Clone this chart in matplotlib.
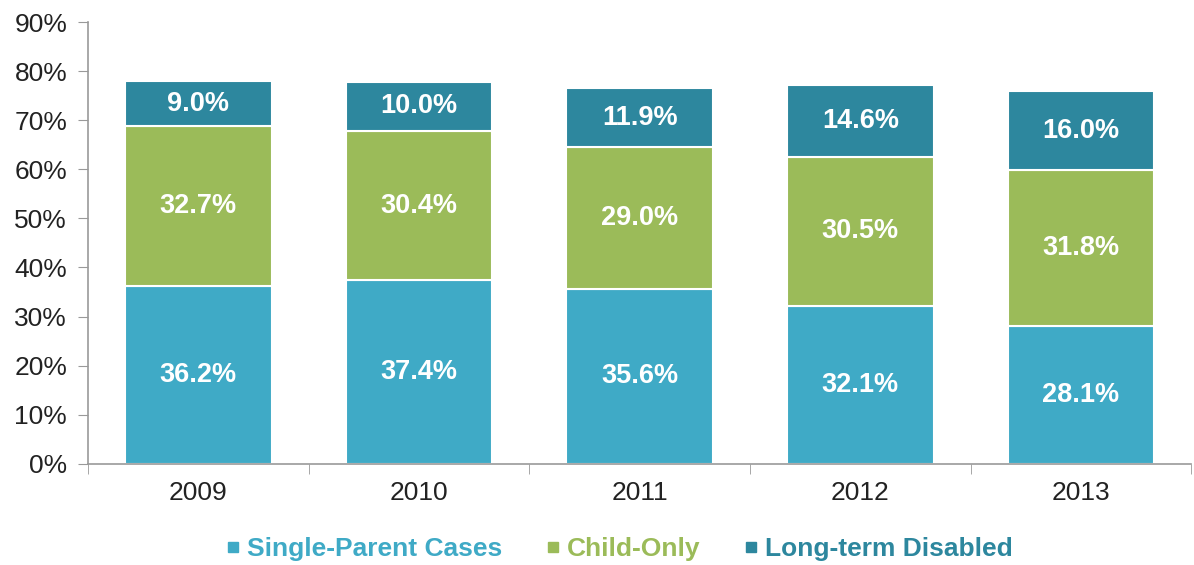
import numpy as np
import matplotlib
matplotlib.use("Agg")
import matplotlib.pyplot as plt
from matplotlib.lines import Line2D

years = ["2009", "2010", "2011", "2012", "2013"]
single_parent = [36.2, 37.4, 35.6, 32.1, 28.1]
child_only = [32.7, 30.4, 29.0, 30.5, 31.8]
disabled = [9.0, 10.0, 11.9, 14.6, 16.0]
series_names = ["Single-Parent Cases", "Child-Only", "Long-term Disabled"]
colors = ["#3FAAC6", "#9BBB59", "#2D879E"]

plt.rcParams["font.family"] = ["Liberation Sans", "DejaVu Sans"]

fig = plt.figure(figsize=(11.94, 5.65), dpi=100)
ax = fig.add_axes([0.0737, 0.179, 0.924, 0.782])

x = np.arange(len(years))
bottom = np.zeros(len(years))
for vals, c in zip([single_parent, child_only, disabled], colors):
    vals = np.array(vals)
    ax.bar(x, vals, 0.665, bottom=bottom, color=c, edgecolor="white", linewidth=1.5)
    for xi, b, v in zip(x, bottom, vals):
        ax.text(xi, b + v / 2, f"{v:.1f}%", ha="center", va="center",
                color="white", fontsize=19.5, fontweight="bold")
    bottom += vals

ax.set_xlim(-0.5, len(years) - 0.5)
ax.set_ylim(0, 90)
ax.set_yticks(np.arange(0, 91, 10))
ax.set_yticklabels([f"{v}%" for v in range(0, 91, 10)])
ax.set_xticks(x)
ax.set_xticklabels(years)
ax.set_xticks(np.arange(-0.5, len(years)), minor=True)
ax.tick_params(axis="x", which="major", length=0, labelsize=19, pad=12, colors="#222222")
ax.tick_params(axis="x", which="minor", length=7, color="#999999", direction="out")
ax.tick_params(axis="y", length=7, color="#999999", labelsize=19, pad=8, labelcolor="#222222")
for s in ["top", "right"]:
    ax.spines[s].set_visible(False)
for s in ["left", "bottom"]:
    ax.spines[s].set_color("#999999")
    ax.spines[s].set_linewidth(1.2)

handles = [Line2D([0], [0], marker="s", linestyle="", color=c, markersize=7) for c in colors]
leg = fig.legend(handles, series_names, loc="center", bbox_to_anchor=(0.515, 0.028),
                 ncol=3, frameon=False, handletextpad=-0.1, columnspacing=1.35,
                 handlelength=1.2, prop={"size": 19, "weight": "bold"})
for t, c in zip(leg.get_texts(), colors):
    t.set_color(c)

fig.savefig("out.png", dpi=100)
